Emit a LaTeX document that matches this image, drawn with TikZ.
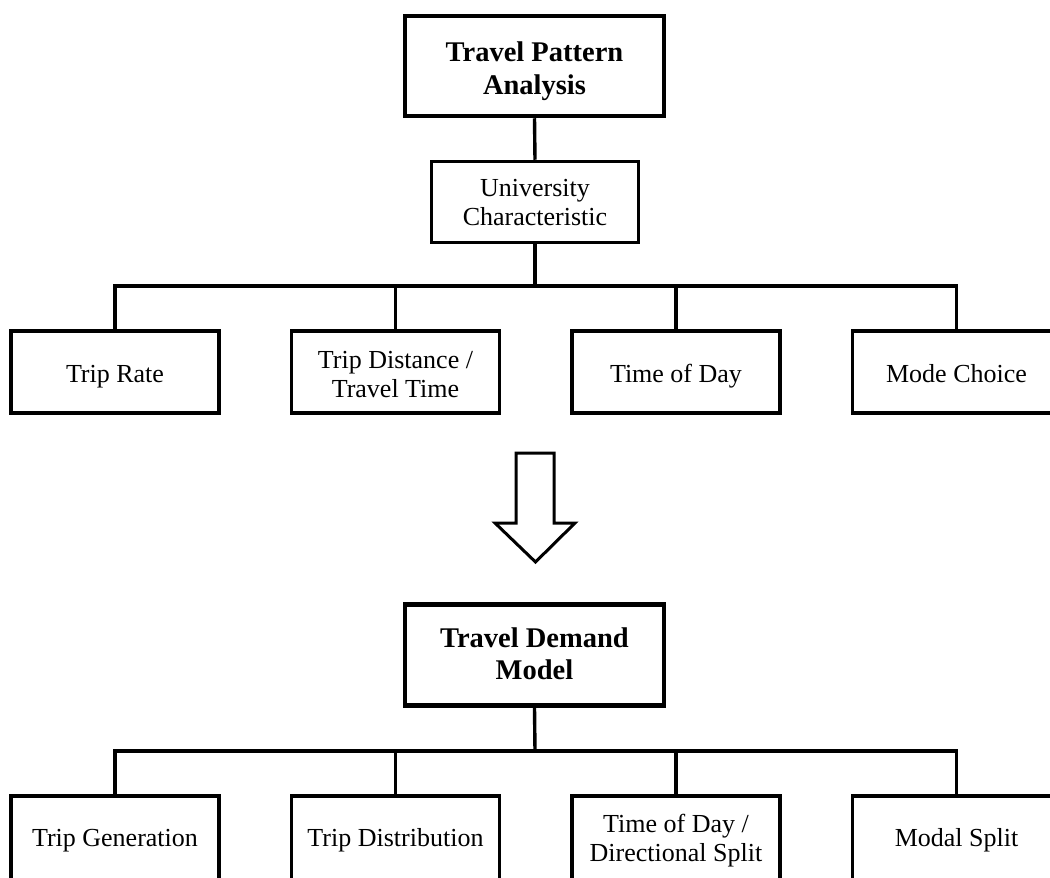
\documentclass[tikz,border=0pt]{standalone}
\usepackage{fontspec}
\setmainfont{Liberation Serif}
\newcommand{\tup}[1]{\rule{0pt}{#1}}
\begin{document}
\begin{tikzpicture}[x=1pt,y=-1pt,
  mainbox/.style={draw=black,line width=4.5pt,minimum width=259pt,minimum height=100pt,inner sep=0pt,align=center,font=\fontsize{28.5}{32.5}\selectfont\bfseries},
  subbox/.style={draw=black,line width=3.5pt,minimum width=208pt,minimum height=82pt,inner sep=0pt,align=center,font=\fontsize{26}{29}\selectfont},
  link/.style={line width=3.4pt,line join=miter},
  bigarrow/.style={draw=black,line width=3pt,fill=white,line join=miter}]
\useasboundingbox (0,0) rectangle (1050,878);
\clip (0,0) rectangle (1050,878);
% upper part
\node[mainbox] (tpa) at (534.5,66) {\tup{34pt}Travel Pattern\\\strut Analysis};
\node[subbox,minimum width=207pt,minimum height=81pt] (uni) at (535,202) {\tup{27pt}University\\\strut Characteristic};
\node[subbox] (a1) at (115,372) {\tup{30pt}\strut Trip Rate};
\node[subbox] (a2) at (395.5,372) {\tup{30pt}Trip Distance /\\\strut Travel Time};
\node[subbox] (a3) at (676,372) {\tup{30pt}\strut Time of Day};
\node[subbox] (a4) at (956.5,372) {\tup{30pt}\strut Mode Choice};
\coordinate (barA) at (535,286);
\draw[link] (tpa.south) -- (uni.north);
\draw[link] (uni.south) -- (barA);
\draw[link] (a1.north) |- (barA) -| (a4.north);
\draw[link] (a2.north) -- (a2.north |- barA);
\draw[link] (a3.north) -- (a3.north |- barA);
% arrow
\draw[bigarrow] (516,453) -- (554,453) -- (554,523) -- (575,523) -- (535.5,562) -- (495,523) -- (516,523) -- cycle;
% lower part
\node[mainbox,minimum height=101pt] (tdm) at (534.5,655) {\tup{26.5pt}Travel Demand\\\strut Model};
\node[subbox,minimum height=84pt] (b1) at (115,838) {\tup{26.5pt}\strut Trip Generation};
\node[subbox,minimum height=84pt] (b2) at (395.5,838) {\tup{26.5pt}\strut Trip Distribution};
\node[subbox,minimum height=84pt] (b3) at (676,838) {\tup{26.5pt}Time of Day /\\\strut Directional Split};
\node[subbox,minimum height=84pt] (b4) at (956.5,838) {\tup{26.5pt}\strut Modal Split};
\coordinate (barB) at (535,751);
\draw[link] (tdm.south) -- (barB);
\draw[link] (b1.north) |- (barB) -| (b4.north);
\draw[link] (b2.north) -- (b2.north |- barB);
\draw[link] (b3.north) -- (b3.north |- barB);
\end{tikzpicture}
\end{document}
